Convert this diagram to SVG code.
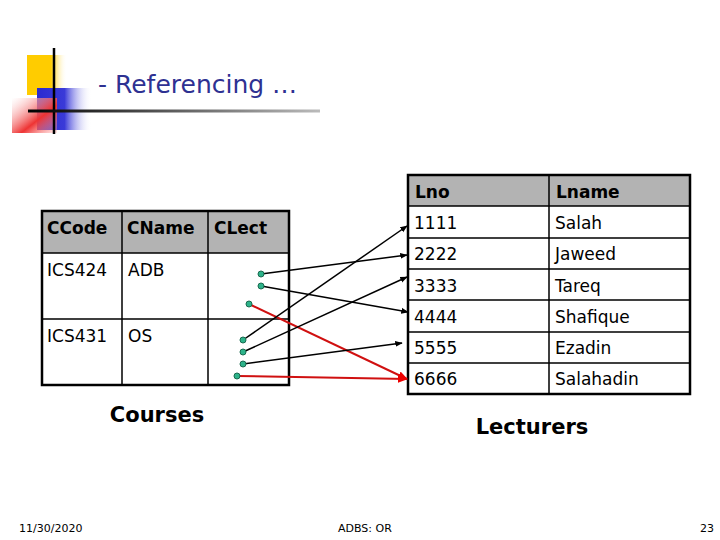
<svg xmlns="http://www.w3.org/2000/svg" width="720" height="540" viewBox="0 0 720 540">
<defs>
<linearGradient id="gb" x1="0" x2="1" y1="0" y2="0"><stop offset="0" stop-color="#2a2ad0"/><stop offset="0.5" stop-color="#3a3ad8"/><stop offset="1" stop-color="#fff" stop-opacity="0"/></linearGradient>
<linearGradient id="gy" x1="0" x2="1"><stop offset="0" stop-color="#ffcc00"/><stop offset="0.6" stop-color="#ffcc00"/><stop offset="1" stop-color="#fff" stop-opacity="0"/></linearGradient>
<linearGradient id="gr" x1="0" x2="1" y1="0" y2="1"><stop offset="0" stop-color="#fff" stop-opacity="0.3"/><stop offset="0.6" stop-color="#ee3333"/><stop offset="1" stop-color="#ffaaaa" stop-opacity="0.3"/></linearGradient>
<linearGradient id="gl" x1="0" x2="1"><stop offset="0" stop-color="#000"/><stop offset="1" stop-color="#bbb"/></linearGradient>
<marker id="ak" viewBox="0 0 10 10" refX="9" refY="5" markerWidth="5" markerHeight="5" orient="auto"><path d="M0,1 L10,5 L0,9 z" fill="#000"/></marker>
<marker id="ar" viewBox="0 0 10 10" refX="9" refY="5" markerWidth="5" markerHeight="5" orient="auto"><path d="M0,1 L10,5 L0,9 z" fill="#e00"/></marker>
</defs>
<style>
text{font-family:"DejaVu Sans",Tahoma,sans-serif;fill:#000}
.c{font-size:17px}
.h{font-size:17px;font-weight:bold}
.grid{fill:none;stroke:#000;stroke-width:1.5}
.out{fill:none;stroke:#000;stroke-width:2.5}
.dot{fill:#2db38a;stroke:#1a6b50;stroke-width:1}
.k{stroke:#000;stroke-width:1.5;fill:none;marker-end:url(#ak)}
.r{stroke:#d01010;stroke-width:2;fill:none;marker-end:url(#ar)}
.f{font-size:11px}
</style>
<g id="logo">
<rect x="27" y="55" width="40" height="40" fill="url(#gy)"/>
<rect x="37" y="88" width="55" height="42" fill="url(#gb)"/>
<rect x="12" y="98" width="45" height="35" fill="url(#gr)"/>
<line x1="54" y1="48" x2="54" y2="134" stroke="#000" stroke-width="2.5"/>
<rect x="28" y="109.5" width="292" height="3" fill="url(#gl)"/>
</g>
<text x="98" y="93" style="font-size:25px;fill:#2e3192">- Referencing …</text>
<g id="courses">
<rect x="42" y="211" width="247" height="42" fill="#b3b3b3"/>
<rect x="42" y="253" width="247" height="132" fill="#fff"/>
<path class="grid" d="M122,211V385M208,211V385M42,253H289M42,319H289"/>
<rect class="out" x="42" y="211" width="247" height="174"/>
<text class="h" x="47" y="234">CCode</text><text class="h" x="127" y="234">CName</text><text class="h" x="214" y="234">CLect</text>
<text class="c" x="47" y="276">ICS424</text><text class="c" x="128" y="276">ADB</text>
<text class="c" x="47" y="342">ICS431</text><text class="c" x="128" y="342">OS</text>
<text x="157" y="422" text-anchor="middle" style="font-size:21px;font-weight:bold">Courses</text>
</g>
<g id="lecturers">
<rect x="408" y="175" width="282" height="31" fill="#b3b3b3"/>
<rect x="408" y="206" width="282" height="188" fill="#fff"/>
<path class="grid" d="M549,175V394M408,206H690M408,238H690M408,269H690M408,300H690M408,332H690M408,363H690"/>
<rect class="out" x="408" y="175" width="282" height="219"/>
<text class="h" x="415" y="198">Lno</text><text class="h" x="556" y="198">Lname</text>
<text class="c" x="414" y="229">1111</text><text class="c" x="555" y="229">Salah</text>
<text class="c" x="414" y="260">2222</text><text class="c" x="555" y="260">Jaweed</text>
<text class="c" x="414" y="292">3333</text><text class="c" x="555" y="292">Tareq</text>
<text class="c" x="414" y="323">4444</text><text class="c" x="555" y="323">Shafique</text>
<text class="c" x="414" y="354">5555</text><text class="c" x="555" y="354">Ezadin</text>
<text class="c" x="414" y="385">6666</text><text class="c" x="555" y="385">Salahadin</text>
<text x="532" y="434" text-anchor="middle" style="font-size:21px;font-weight:bold">Lecturers</text>
</g>
<g id="connectors">
<line class="k" x1="261" y1="274" x2="407" y2="255"/>
<line class="k" x1="261" y1="286" x2="408" y2="312"/>
<line class="r" x1="249" y1="304" x2="407" y2="379"/>
<line class="k" x1="243" y1="340" x2="407" y2="226"/>
<line class="k" x1="243" y1="352" x2="407" y2="277"/>
<line class="k" x1="243" y1="364" x2="402" y2="343"/>
<line class="r" x1="237" y1="376" x2="407" y2="379"/>
<circle class="dot" cx="261" cy="274" r="3"/><circle class="dot" cx="261" cy="286" r="3"/>
<circle class="dot" cx="249" cy="304" r="3"/><circle class="dot" cx="243" cy="340" r="3"/>
<circle class="dot" cx="243" cy="352" r="3"/><circle class="dot" cx="243" cy="364" r="3"/>
<circle class="dot" cx="237" cy="376" r="3"/>
</g>
<text class="f" x="19" y="532">11/30/2020</text>
<text class="f" x="338" y="532">ADBS: OR</text>
<text class="f" x="700" y="532">23</text>
</svg>
